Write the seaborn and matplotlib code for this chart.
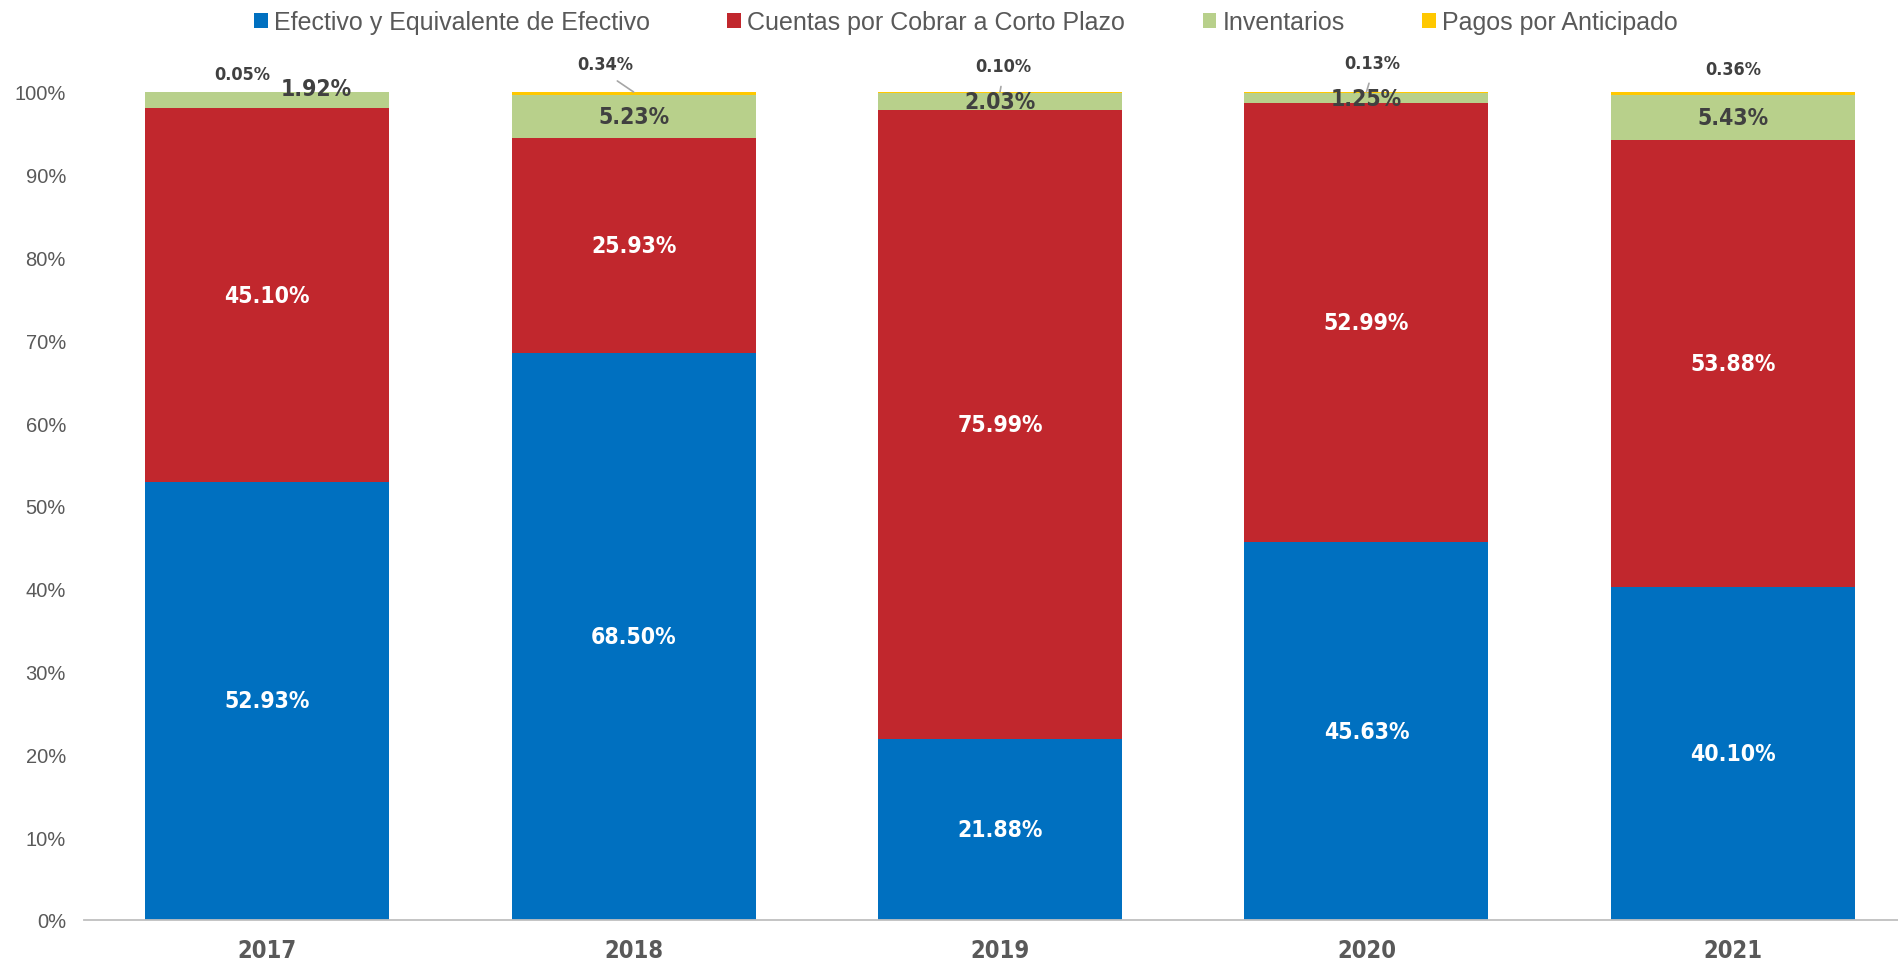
import numpy as np
import matplotlib
matplotlib.use("Agg")
import matplotlib.pyplot as plt
import seaborn as sns
from matplotlib.ticker import PercentFormatter, MultipleLocator

years = ["2017", "2018", "2019", "2020", "2021"]
efectivo = [52.93, 68.50, 21.88, 45.63, 40.10]
cuentas = [45.10, 25.93, 75.99, 52.99, 53.88]
inventarios = [1.92, 5.23, 2.03, 1.25, 5.43]
pagos = [0.05, 0.34, 0.10, 0.13, 0.36]

names = ["Efectivo y Equivalente de Efectivo", "Cuentas por Cobrar a Corto Plazo",
         "Inventarios", "Pagos por Anticipado"]
colors = ["#0070C0", "#C1272D", "#B8D08B", "#FFC800"]

sns.set_style("white")
plt.rcParams["font.family"] = ["Liberation Sans", "DejaVu Sans"]

values = np.array([efectivo, cuentas, inventarios, pagos])
shares = values / values.sum(axis=0)  # 100% stacked
cum = np.cumsum(shares, axis=0)

fig = plt.figure(figsize=(18.98, 9.62), dpi=100)
ax = fig.add_axes([84 / 1898, 41 / 962, 1832 / 1898, 828 / 962])

# draw the cumulative totals from the top layer down
for i in reversed(range(4)):
    sns.barplot(x=years, y=cum[i], color=colors[i], saturation=1, width=0.666,
                linewidth=0, ax=ax, label=names[i])
handles, labels = ax.get_legend_handles_labels()
if ax.get_legend() is not None:
    ax.get_legend().remove()

ax.set_xlim(-0.5, 4.5)
ax.set_ylim(0, 1)
ax.yaxis.set_major_locator(MultipleLocator(0.1))
ax.yaxis.set_major_formatter(PercentFormatter(1, decimals=0))
ax.set_xlabel("")
ax.set_ylabel("")
for s in ["left", "top", "right"]:
    ax.spines[s].set_visible(False)
ax.spines["bottom"].set_color("#BFBFBF")
ax.spines["bottom"].set_linewidth(1.3)
ax.tick_params(axis="y", length=0, pad=13, labelcolor="#595959", labelsize=14.5)
ax.tick_params(axis="x", length=0, pad=13)
for lab in ax.get_xticklabels():
    lab.set_family("DejaVu Sans")
    lab.set_stretch("condensed")
    lab.set_weight("bold")
    lab.set_fontsize(17)
    lab.set_color("#595959")

lbl_font = dict(family="DejaVu Sans", stretch="condensed", weight="bold")
dark = "#404040"

# segment labels
green_nudge = {0: (49, 4)}
for j in range(len(years)):
    for i in range(3):
        bottom = cum[i - 1][j] if i > 0 else 0
        mid = (bottom + cum[i][j]) / 2
        txt = f"{values[i][j]:.2f}%"
        if i < 2:
            ax.text(j, mid, txt, ha="center", va="center", color="white",
                    fontsize=16.5, zorder=5, **lbl_font)
        elif j in green_nudge:
            ax.annotate(txt, xy=(j, 1.0), xytext=green_nudge[j],
                        textcoords="offset pixels", ha="center", va="center",
                        color=dark, fontsize=16.5, zorder=5, annotation_clip=False,
                        **lbl_font)
        else:
            ax.text(j, mid, txt, ha="center", va="center", color=dark,
                    fontsize=16.5, zorder=5, clip_on=False, **lbl_font)

# small labels for the prepaid series, above the bars
top_offsets = [(-25, 18), (-28, 28), (3, 26), (6, 29), (0, 23)]
leaders = [False, True, True, True, False]
for j in range(len(years)):
    arrow = None
    if leaders[j]:
        arrow = dict(arrowstyle="-", color="#A6A6A6", lw=1.2, relpos=(0.5, 0),
                     shrinkA=6, shrinkB=0)
    ax.annotate(f"{pagos[j]:.2f}%", xy=(j, 1.0), xytext=top_offsets[j],
                textcoords="offset pixels", ha="center", va="center",
                color=dark, fontsize=13, annotation_clip=False,
                arrowprops=arrow, **lbl_font)

fig.legend(handles[::-1], labels[::-1], loc="center",
           bbox_to_anchor=(966 / 1898, 1 - 23 / 962), ncol=4, frameon=False,
           fontsize=18, handlelength=0.55, handleheight=0.55, handletextpad=0.25,
           columnspacing=3.1, labelcolor="#595959", borderaxespad=0, borderpad=0)

fig.savefig("out.png", dpi=100)
